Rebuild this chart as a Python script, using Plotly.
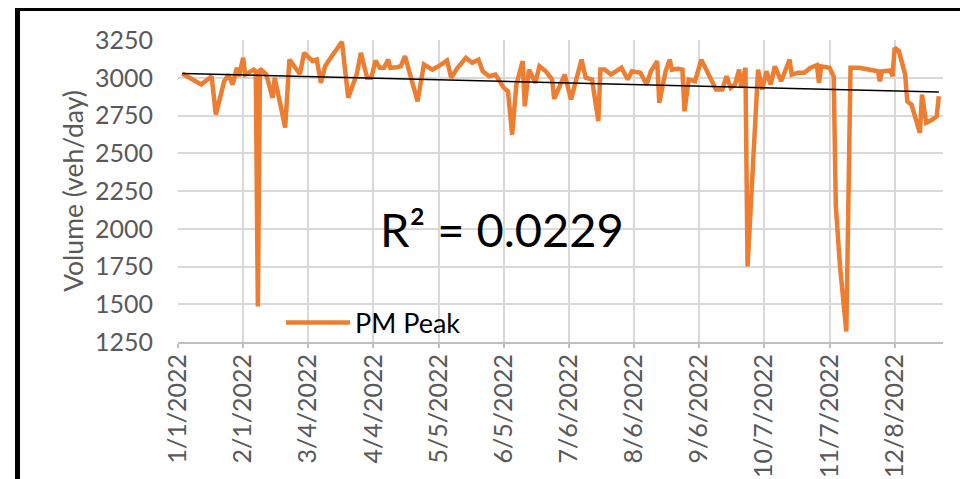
import plotly.graph_objects as go

# ---- data ----
dates = [
    "2022-01-03", "2022-01-12", "2022-01-17", "2022-01-19", "2022-01-23", "2022-01-25",
    "2022-01-27", "2022-01-29", "2022-01-30", "2022-02-01", "2022-02-02", "2022-02-06",
    "2022-02-07", "2022-02-08", "2022-02-09", "2022-02-12", "2022-02-15", "2022-02-16",
    "2022-02-21", "2022-02-23", "2022-02-28", "2022-03-02", "2022-03-06", "2022-03-08",
    "2022-03-10", "2022-03-12", "2022-03-14", "2022-03-17", "2022-03-20", "2022-03-23",
    "2022-03-27", "2022-03-29", "2022-04-01", "2022-04-03", "2022-04-05", "2022-04-07",
    "2022-04-09", "2022-04-11", "2022-04-12", "2022-04-15", "2022-04-17", "2022-04-19",
    "2022-04-21", "2022-04-25", "2022-04-28", "2022-05-02", "2022-05-05", "2022-05-09",
    "2022-05-11", "2022-05-14", "2022-05-18", "2022-05-21", "2022-05-24", "2022-05-26",
    "2022-05-29", "2022-06-01", "2022-06-02", "2022-06-05", "2022-06-07", "2022-06-09",
    "2022-06-11", "2022-06-14", "2022-06-15", "2022-06-17", "2022-06-20", "2022-06-22",
    "2022-06-25", "2022-06-28", "2022-06-29", "2022-07-02", "2022-07-04", "2022-07-07",
    "2022-07-10", "2022-07-12", "2022-07-14", "2022-07-17", "2022-07-20", "2022-07-21",
    "2022-07-23", "2022-07-26", "2022-07-31", "2022-08-03", "2022-08-05", "2022-08-09",
    "2022-08-12", "2022-08-14", "2022-08-17", "2022-08-18", "2022-08-21", "2022-08-23",
    "2022-08-24", "2022-08-27", "2022-08-29", "2022-08-30", "2022-09-01", "2022-09-04",
    "2022-09-07", "2022-09-10", "2022-09-14", "2022-09-17", "2022-09-19", "2022-09-21",
    "2022-09-23", "2022-09-25", "2022-09-26", "2022-09-28", "2022-09-29", "2022-10-04",
    "2022-10-06", "2022-10-08", "2022-10-10", "2022-10-12", "2022-10-15", "2022-10-19",
    "2022-10-20", "2022-10-23", "2022-10-26", "2022-10-29", "2022-11-01", "2022-11-02",
    "2022-11-03", "2022-11-07", "2022-11-09", "2022-11-10", "2022-11-12", "2022-11-15",
    "2022-11-17", "2022-11-21", "2022-11-30", "2022-12-01", "2022-12-02", "2022-12-06",
    "2022-12-07", "2022-12-08", "2022-12-10", "2022-12-13", "2022-12-14", "2022-12-16",
    "2022-12-18", "2022-12-20", "2022-12-21", "2022-12-23", "2022-12-26", "2022-12-28",
    "2022-12-29",
]

pm_peak = [
    3028, 2955, 3010, 2756, 2977, 3021,
    2955, 3066, 3010, 3132, 3021, 3054,
    3043, 1485, 3060, 3021, 2867, 3000,
    2670, 3120, 3025, 3165, 3110, 3120,
    2966, 3076, 3120, 3176, 3238, 2867,
    3021, 3165, 3000, 3000, 3114, 3066,
    3066, 3120, 3066, 3070, 3076, 3143,
    3043, 2844, 3088, 3054, 3076, 3114,
    3000, 3066, 3132, 3099, 3120, 3043,
    3010, 3021, 3000, 2933, 2910, 2623,
    2955, 3110, 2811, 3054, 2966, 3076,
    3043, 2990, 2860, 2955, 3021, 2856,
    3010, 3120, 3000, 2988, 2712, 3054,
    3054, 3021, 3066, 2988, 3043, 3033,
    2955, 3043, 3110, 2834, 3043, 3120,
    3054, 3060, 3054, 2778, 2988, 2977,
    3120, 3033, 2922, 2922, 3010, 2933,
    2955, 3054, 2933, 3066, 1750, 3054,
    2922, 3043, 2955, 3076, 2977, 3120,
    3021, 3033, 3033, 3066, 3083, 2966,
    3076, 3066, 3010, 2150, 1750, 1320,
    3066, 3066, 3043, 2977, 3043, 3048,
    3010, 3198, 3176, 3021, 2844, 2822,
    2723, 2635, 2889, 2701, 2723, 2745,
    2877,
]

# linear trendline end points
trend_dates = ["2022-01-03", "2022-12-29"]
trend_values = [3028, 2906]

tick_dates = ["2022-01-01", "2022-02-01", "2022-03-04", "2022-04-04", "2022-05-05",
              "2022-06-05", "2022-07-06", "2022-08-06", "2022-09-06", "2022-10-07",
              "2022-11-07", "2022-12-08"]
tick_labels = ["1/1/2022", "2/1/2022", "3/4/2022", "4/4/2022", "5/5/2022", "6/5/2022",
               "7/6/2022", "8/6/2022", "9/6/2022", "10/7/2022", "11/7/2022", "12/8/2022"]

series_name = "PM Peak"
r2_text = "R² = 0.0229"
y_title = "Volume (veh/day)"

# ---- figure ----
FONT = "Lato"
OFF = 8  # page body margin
W, H = 960, 471
L, R, T, B = 170, 25, 32, 137
pw, ph = W - L - R, H - T - B


def px_x(sx):
    """screen x -> paper x"""
    return (sx - OFF - L) / pw


def px_y(sy):
    """screen y -> paper y"""
    return (OFF + H - B - sy) / ph


fig = go.Figure()
fig.add_trace(go.Scatter(
    x=dates, y=pm_peak, mode="lines", name=series_name,
    line=dict(color="#ED7D31", width=4.5), showlegend=True,
))
fig.add_trace(go.Scatter(
    x=trend_dates, y=trend_values, mode="lines", name="Linear (PM Peak)",
    line=dict(color="#000000", width=1.5), showlegend=False,
))

fig.update_layout(
    width=W, height=H,
    margin=dict(l=L, r=R, t=T, b=B, autoexpand=False),
    paper_bgcolor="white", plot_bgcolor="white",
    font=dict(family=FONT, color="#595959"),
    showlegend=True,
    legend=dict(
        x=px_x(281), y=px_y(323), xanchor="left", yanchor="middle",
        bgcolor="rgba(0,0,0,0)", borderwidth=0,
        font=dict(family=FONT, size=27, color="#000000"),
        itemwidth=64,
    ),
    xaxis=dict(
        type="date",
        range=["2022-01-01", "2022-12-31"],
        tickmode="array", tickvals=tick_dates, ticktext=tick_labels,
        tickangle=-90,
        tickfont=dict(family=FONT, size=25, color="#595959"),
        showgrid=True, gridcolor="#D9D9D9", gridwidth=1.8,
        showline=True, linecolor="#BFBFBF", linewidth=1.8,
        ticks="outside", ticklen=4, tickcolor="#BFBFBF", tickwidth=1.5,
        ticklabelstandoff=-4,
        zeroline=False, automargin=False,
    ),
    yaxis=dict(
        range=[1250, 3250], tick0=1250, dtick=250,
        tickfont=dict(family=FONT, size=25, color="#595959"),
        showgrid=True, gridcolor="#D9D9D9", gridwidth=1.8,
        showline=False, zeroline=False, ticks="",
        ticklabelstandoff=24,
        title=dict(text=y_title, font=dict(family=FONT, size=26.5, color="#595959"), standoff=3),
        automargin=False,
    ),
    annotations=[dict(
        text=r2_text, xref="paper", yref="paper",
        x=px_x(502), y=px_y(229), xanchor="center", yanchor="middle",
        showarrow=False, font=dict(family=FONT, size=47, color="#000000"),
    )],
    shapes=[
        dict(type="rect", xref="paper", yref="paper",
             x0=px_x(17.5), x1=px_x(1100), y0=px_y(600), y1=px_y(8.5),
             line=dict(color="#000000", width=5), fillcolor="rgba(0,0,0,0)",
             layer="above"),
    ],
)

fig.write_html("out.html")
